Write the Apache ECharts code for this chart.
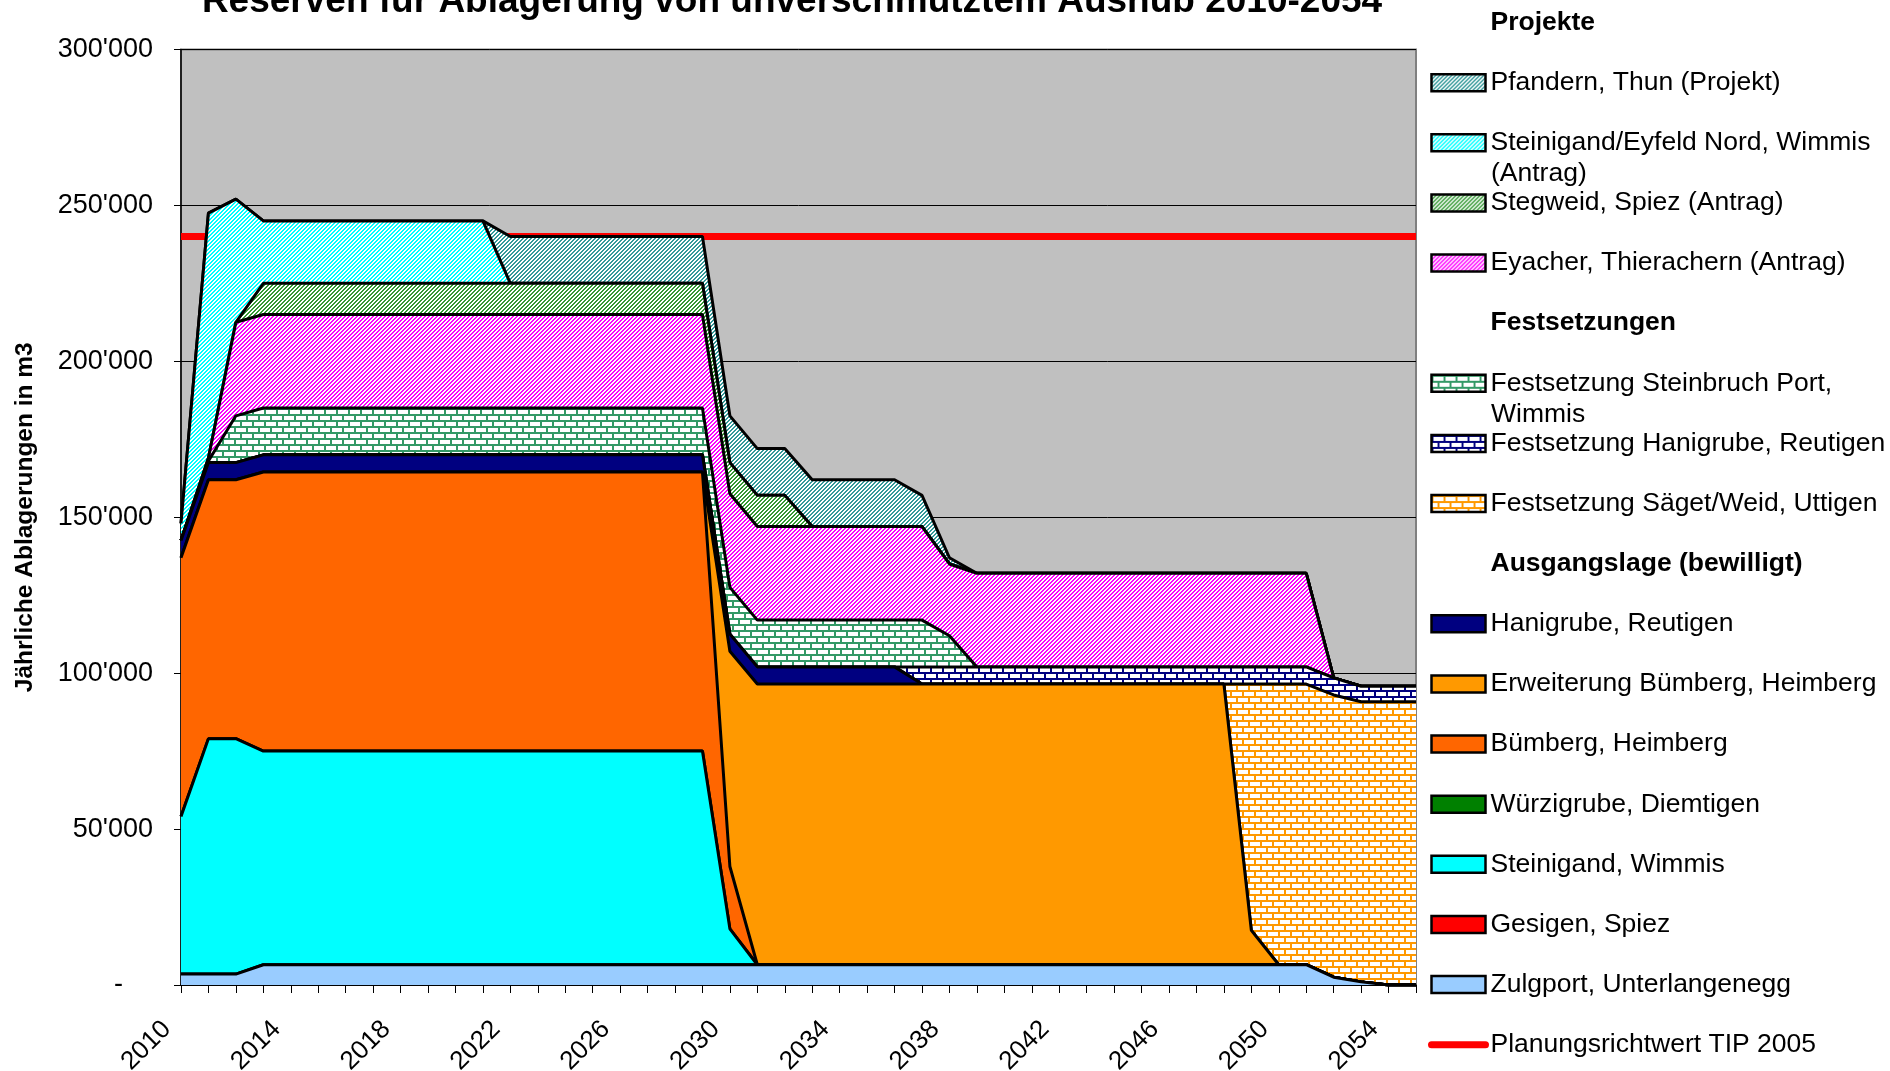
<!DOCTYPE html>
<html>
<head>
<meta charset="utf-8">
<title>Reserven für Ablagerung von unverschmutztem Aushub 2010-2054</title>
<style>
    html, body { margin: 0; padding: 0; background: #fff; }
    #main { width: 1890px; height: 1071px; }
</style>
</head>
<body>
<div id="main"></div>
<script src="https://cdn.jsdelivr.net/npm/echarts@6.0.0/dist/echarts.min.js"></script>
<script>
// Jahre (x-Achse)
var years = ['2010','2011','2012','2013','2014','2015','2016','2017','2018','2019',
             '2020','2021','2022','2023','2024','2025','2026','2027','2028','2029',
             '2030','2031','2032','2033','2034','2035','2036','2037','2038','2039',
             '2040','2041','2042','2043','2044','2045','2046','2047','2048','2049',
             '2050','2051','2052','2053','2054','2055'];

// Ausgangslage (bewilligt), m3 pro Jahr
var zulgport = [3500,3500,3500,6500,6500,6500,6500,6500,6500,6500,
                6500,6500,6500,6500,6500,6500,6500,6500,6500,6500,
                6500,6500,6500,6500,6500,6500,6500,6500,6500,6500,
                6500,6500,6500,6500,6500,6500,6500,6500,6500,6500,
                6500,6500,2500,1000,0,0];
var gesigen = [0,0,0,0,0,0,0,0,0,0, 0,0,0,0,0,0,0,0,0,0, 0,0,0,0,0,0,0,0,0,0,
               0,0,0,0,0,0,0,0,0,0, 0,0,0,0,0,0];
var steinigand = [50500,75500,75500,68500,68500,68500,68500,68500,68500,68500,
                  68500,68500,68500,68500,68500,68500,68500,68500,68500,68500,
                  11500,0,0,0,0,0,0,0,0,0,
                  0,0,0,0,0,0,0,0,0,0,
                  0,0,0,0,0,0];
var wuerzigrube = [0,0,0,0,0,0,0,0,0,0, 0,0,0,0,0,0,0,0,0,0, 0,0,0,0,0,0,0,0,0,0,
                   0,0,0,0,0,0,0,0,0,0, 0,0,0,0,0,0];
var buemberg = [83000,83000,83000,89500,89500,89500,89500,89500,89500,89500,
                89500,89500,89500,89500,89500,89500,89500,89500,89500,89500,
                20000,0,0,0,0,0,0,0,0,0,
                0,0,0,0,0,0,0,0,0,0,
                0,0,0,0,0,0];
var erweiterung = [0,0,0,0,0,0,0,0,0,0,
                   0,0,0,0,0,0,0,0,0,0,
                   69000,90000,90000,90000,90000,90000,90000,90000,90000,90000,
                   90000,90000,90000,90000,90000,90000,90000,90000,90000,11000,
                   0,0,0,0,0,0];
var hanigrube = [5500,5500,5500,5500,5500,5500,5500,5500,5500,5500,
                 5500,5500,5500,5500,5500,5500,5500,5500,5500,5500,
                 5500,5500,5500,5500,5500,5500,5500,0,0,0,
                 0,0,0,0,0,0,0,0,0,0,
                 0,0,0,0,0,0];

// Festsetzungen
var saeget = [0,0,0,0,0,0,0,0,0,0, 0,0,0,0,0,0,0,0,0,0, 0,0,0,0,0,0,0,0,0,0,
              0,0,0,0,0,0,0,0,0,79000,
              90000,90000,90500,89800,90800,90800];
var festHanigrube = [0,0,0,0,0,0,0,0,0,0, 0,0,0,0,0,0,0,0,0,0,
                     0,0,0,0,0,0,0,5500,5500,5500,
                     5500,5500,5500,5500,5500,5500,5500,5500,5500,5500,
                     5500,5500,5500,5000,5000,5000];
var steinbruchPort = [0,500,15000,15000,15000,15000,15000,15000,15000,15000,
                      15000,15000,15000,15000,15000,15000,15000,15000,15000,15000,
                      15000,15000,15000,15000,15000,15000,15000,15000,10000,0,
                      0,0,0,0,0,0,0,0,0,0,
                      0,0,0,0,0,0];

// Projekte
var eyacher = [0,1000,30000,30000,30000,30000,30000,30000,30000,30000,
               30000,30000,30000,30000,30000,30000,30000,30000,30000,30000,
               30000,30000,30000,30000,30000,30000,30000,30000,23000,30000,
               30000,30000,30000,30000,30000,30000,30000,30000,30000,30000,
               30000,30000,0,0,0,0];
var stegweid = [0,0,0,10000,10000,10000,10000,10000,10000,10000,
                10000,10000,10000,10000,10000,10000,10000,10000,10000,10000,
                10000,10000,10000,0,0,0,0,0,0,0,
                0,0,0,0,0,0,0,0,0,0,
                0,0,0,0,0,0];
var eyfeldNord = [5500,78500,39500,20000,20000,20000,20000,20000,20000,20000,
                  20000,20000,0,0,0,0,0,0,0,0,
                  0,0,0,0,0,0,0,0,0,0,
                  0,0,0,0,0,0,0,0,0,0,
                  0,0,0,0,0,0];
var pfandern = [0,0,0,0,0,0,0,0,0,0,
                0,0,15000,15000,15000,15000,15000,15000,15000,15000,
                15000,15000,15000,15000,15000,15000,15000,10000,2000,0,
                0,0,0,0,0,0,0,0,0,0,
                0,0,0,0,0,0];

// Planungsrichtwert TIP 2005
var richtwert = 240000;

var yTicks = [0, 50000, 100000, 150000, 200000, 250000, 300000];

var FONT = '"Liberation Sans", Arial, sans-serif';

// Schraffur "/" auf weissem Grund
function hatch(color) {
    var c = document.createElement('canvas');
    c.width = 8; c.height = 8;
    var ctx = c.getContext('2d');
    ctx.fillStyle = '#fff';
    ctx.fillRect(0, 0, 8, 8);
    ctx.fillStyle = color;
    for (var x = 0; x < 8; x++) {
        for (var y = 0; y < 8; y++) {
            if ((x + y) % 4 < 2) ctx.fillRect(x, y, 1, 1);
        }
    }
    return { image: c, repeat: 'repeat' };
}

// Ziegelmuster auf weissem Grund
function brick(color) {
    var c = document.createElement('canvas');
    c.width = 12; c.height = 12;
    var ctx = c.getContext('2d');
    ctx.fillStyle = '#fff';
    ctx.fillRect(0, 0, 12, 12);
    ctx.fillStyle = color;
    ctx.fillRect(0, 0, 12, 2);
    ctx.fillRect(0, 6, 12, 2);
    ctx.fillRect(0, 2, 2, 4);
    ctx.fillRect(6, 8, 2, 4);
    return { image: c, repeat: 'repeat' };
}

var fills = {
    zulgport: '#99ccff',
    gesigen: '#ff0000',
    steinigand: '#00ffff',
    wuerzigrube: '#008000',
    buemberg: '#ff6600',
    erweiterung: '#ff9900',
    hanigrube: '#000080',
    saeget: brick('#ff9900'),
    festHanigrube: brick('#000080'),
    steinbruchPort: brick('#339966'),
    eyacher: hatch('#ff00ff'),
    stegweid: hatch('#339933'),
    eyfeldNord: hatch('#00ffff'),
    pfandern: hatch('#339999')
};

// Reihenfolge = Stapelung von unten nach oben
var stackList = [
    ['Zulgport, Unterlangenegg', zulgport, fills.zulgport],
    ['Gesigen, Spiez', gesigen, fills.gesigen],
    ['Steinigand, Wimmis', steinigand, fills.steinigand],
    ['Würzigrube, Diemtigen', wuerzigrube, fills.wuerzigrube],
    ['Bümberg, Heimberg', buemberg, fills.buemberg],
    ['Erweiterung Bümberg, Heimberg', erweiterung, fills.erweiterung],
    ['Hanigrube, Reutigen', hanigrube, fills.hanigrube],
    ['Festsetzung Säget/Weid, Uttigen', saeget, fills.saeget],
    ['Festsetzung Hanigrube, Reutigen', festHanigrube, fills.festHanigrube],
    ['Festsetzung Steinbruch Port,\nWimmis', steinbruchPort, fills.steinbruchPort],
    ['Eyacher, Thierachern (Antrag)', eyacher, fills.eyacher],
    ['Stegweid, Spiez (Antrag)', stegweid, fills.stegweid],
    ['Steinigand/Eyfeld Nord, Wimmis\n(Antrag)', eyfeldNord, fills.eyfeldNord],
    ['Pfandern, Thun (Projekt)', pfandern, fills.pfandern]
];

var series = [];
var fillByName = {};
for (var i = 0; i < stackList.length; i++) {
    fillByName[stackList[i][0]] = stackList[i][2];
    series.push({
        name: stackList[i][0],
        type: 'line',
        stack: 'reserven',
        data: stackList[i][1],
        symbol: 'none',
        z: 30 - i,   // untere Flächen oben zeichnen, damit alle Ränder sichtbar bleiben
        lineStyle: { color: '#000', width: 3 },
        itemStyle: { color: '#000' },
        areaStyle: { color: stackList[i][2], opacity: 1 },
        emphasis: { disabled: true }
    });
}

// rote Linie
series.push({
    name: 'Planungsrichtwert TIP 2005',
    type: 'line',
    data: [],
    symbol: 'none',
    z: 40,
    lineStyle: { color: '#ff0000', width: 7 },
    itemStyle: { color: '#ff0000' },
    markLine: {
        silent: true,
        symbol: 'none',
        label: { show: false },
        lineStyle: { color: '#ff0000', width: 7, type: 'solid' },
        data: [{ yAxis: richtwert }]
    }
});

// Überschriften in der Legende
var headings = ['Projekte', 'Festsetzungen', 'Ausgangslage (bewilligt)'];
for (var h = 0; h < headings.length; h++) {
    series.push({ name: headings[h], type: 'line', data: [] });
}

var legendOrder = [
    'Projekte',
    'Pfandern, Thun (Projekt)',
    'Steinigand/Eyfeld Nord, Wimmis\n(Antrag)',
    'Stegweid, Spiez (Antrag)',
    'Eyacher, Thierachern (Antrag)',
    'Festsetzungen',
    'Festsetzung Steinbruch Port,\nWimmis',
    'Festsetzung Hanigrube, Reutigen',
    'Festsetzung Säget/Weid, Uttigen',
    'Ausgangslage (bewilligt)',
    'Hanigrube, Reutigen',
    'Erweiterung Bümberg, Heimberg',
    'Bümberg, Heimberg',
    'Würzigrube, Diemtigen',
    'Steinigand, Wimmis',
    'Gesigen, Spiez',
    'Zulgport, Unterlangenegg',
    'Planungsrichtwert TIP 2005'
];

var legendData = legendOrder.map(function (name) {
    if (headings.indexOf(name) >= 0) {
        return { name: name, icon: 'rect',
                 itemStyle: { color: 'rgba(0,0,0,0)', borderWidth: 0 },
                 textStyle: { fontWeight: 'bold' } };
    }
    if (name === 'Planungsrichtwert TIP 2005') {
        // nur die Linie, kein Punkt
        return { name: name,
                 lineStyle: { color: '#ff0000', width: 7, cap: 'round' },
                 itemStyle: { color: 'rgba(0,0,0,0)', borderColor: 'rgba(0,0,0,0)', borderWidth: 0 } };
    }
    return { name: name, icon: 'rect',
             itemStyle: { color: fillByName[name], borderColor: '#000', borderWidth: 2.5 } };
});

var ROW = 60.13;   // Zeilenabstand der Legende
var LEG_TOP = 22.5;
var LEG_LEFT = 1428;

var myChart = echarts.init(document.getElementById('main'));

var option = {
    animation: false,
    backgroundColor: '#fff',
    textStyle: { fontFamily: FONT, color: '#000' },
    title: {
        text: 'Reserven für Ablagerung von unverschmutztem Aushub 2010-2054',
        left: 792,
        top: -17,
        padding: 0,
        textAlign: 'center',
        textStyle: { fontFamily: FONT, fontSize: 37, fontWeight: 'bold', color: '#000' }
    },
    grid: {
        left: 181, right: 474, top: 49.4, bottom: 86,
        show: true,
        backgroundColor: '#c0c0c0',
        borderColor: '#808080',
        borderWidth: 2,
        containLabel: false,
        outerBoundsMode: 'none'
    },
    legend: {
        orient: 'vertical',
        left: LEG_LEFT,
        top: LEG_TOP - 15,
        padding: 0,
        itemWidth: 54,
        itemHeight: 17,
        itemGap: ROW - 30,
        selectedMode: false,
        textStyle: { fontFamily: FONT, fontSize: 26.5, lineHeight: 30, color: '#000' },
        formatter: function (name) { return name.split('\n')[0]; },
        data: legendData
    },
    graphic: [
        { type: 'text', x: LEG_LEFT + 63, y: LEG_TOP + 2 * ROW + 31, silent: true,
          style: { text: '(Antrag)', font: '26.5px ' + FONT, fill: '#000',
                   verticalAlign: 'middle', textVerticalAlign: 'middle' } },
        { type: 'text', x: LEG_LEFT + 63, y: LEG_TOP + 6 * ROW + 31, silent: true,
          style: { text: 'Wimmis', font: '26.5px ' + FONT, fill: '#000',
                   verticalAlign: 'middle', textVerticalAlign: 'middle' } }
    ],
    xAxis: {
        type: 'category',
        data: years,
        boundaryGap: false,
        axisLine: { lineStyle: { color: '#000', width: 1.5 } },
        axisTick: { show: true, interval: 0, length: 8, lineStyle: { color: '#000' } },
        axisLabel: {
            interval: 3,
            rotate: 45,
            fontSize: 26,
            color: '#000',
            margin: 26,
            padding: [0, 20, 0, 0]
        },
        splitLine: { show: false }
    },
    yAxis: {
        type: 'value',
        min: yTicks[0],
        max: yTicks[yTicks.length - 1],
        interval: yTicks[1] - yTicks[0],
        name: 'Jährliche Ablagerungen in m3',
        nameLocation: 'middle',
        nameGap: 143,
        nameRotate: 90,
        nameTextStyle: { fontFamily: FONT, fontSize: 24.5, fontWeight: 'bold', color: '#000' },
        axisLine: { show: true, lineStyle: { color: '#000', width: 1.5 } },
        axisTick: { show: true, length: 7, lineStyle: { color: '#000' } },
        axisLabel: {
            fontSize: 27,
            color: '#000',
            margin: 28,
            formatter: function (v) {
                if (v === 0) return '-    ';
                return String(v).replace(/\B(?=(\d{3})+(?!\d))/g, "'");
            }
        },
        splitLine: { show: true, lineStyle: { color: '#000', width: 1 } }
    },
    series: series
};

myChart.setOption(option);
</script>
</body>
</html>
